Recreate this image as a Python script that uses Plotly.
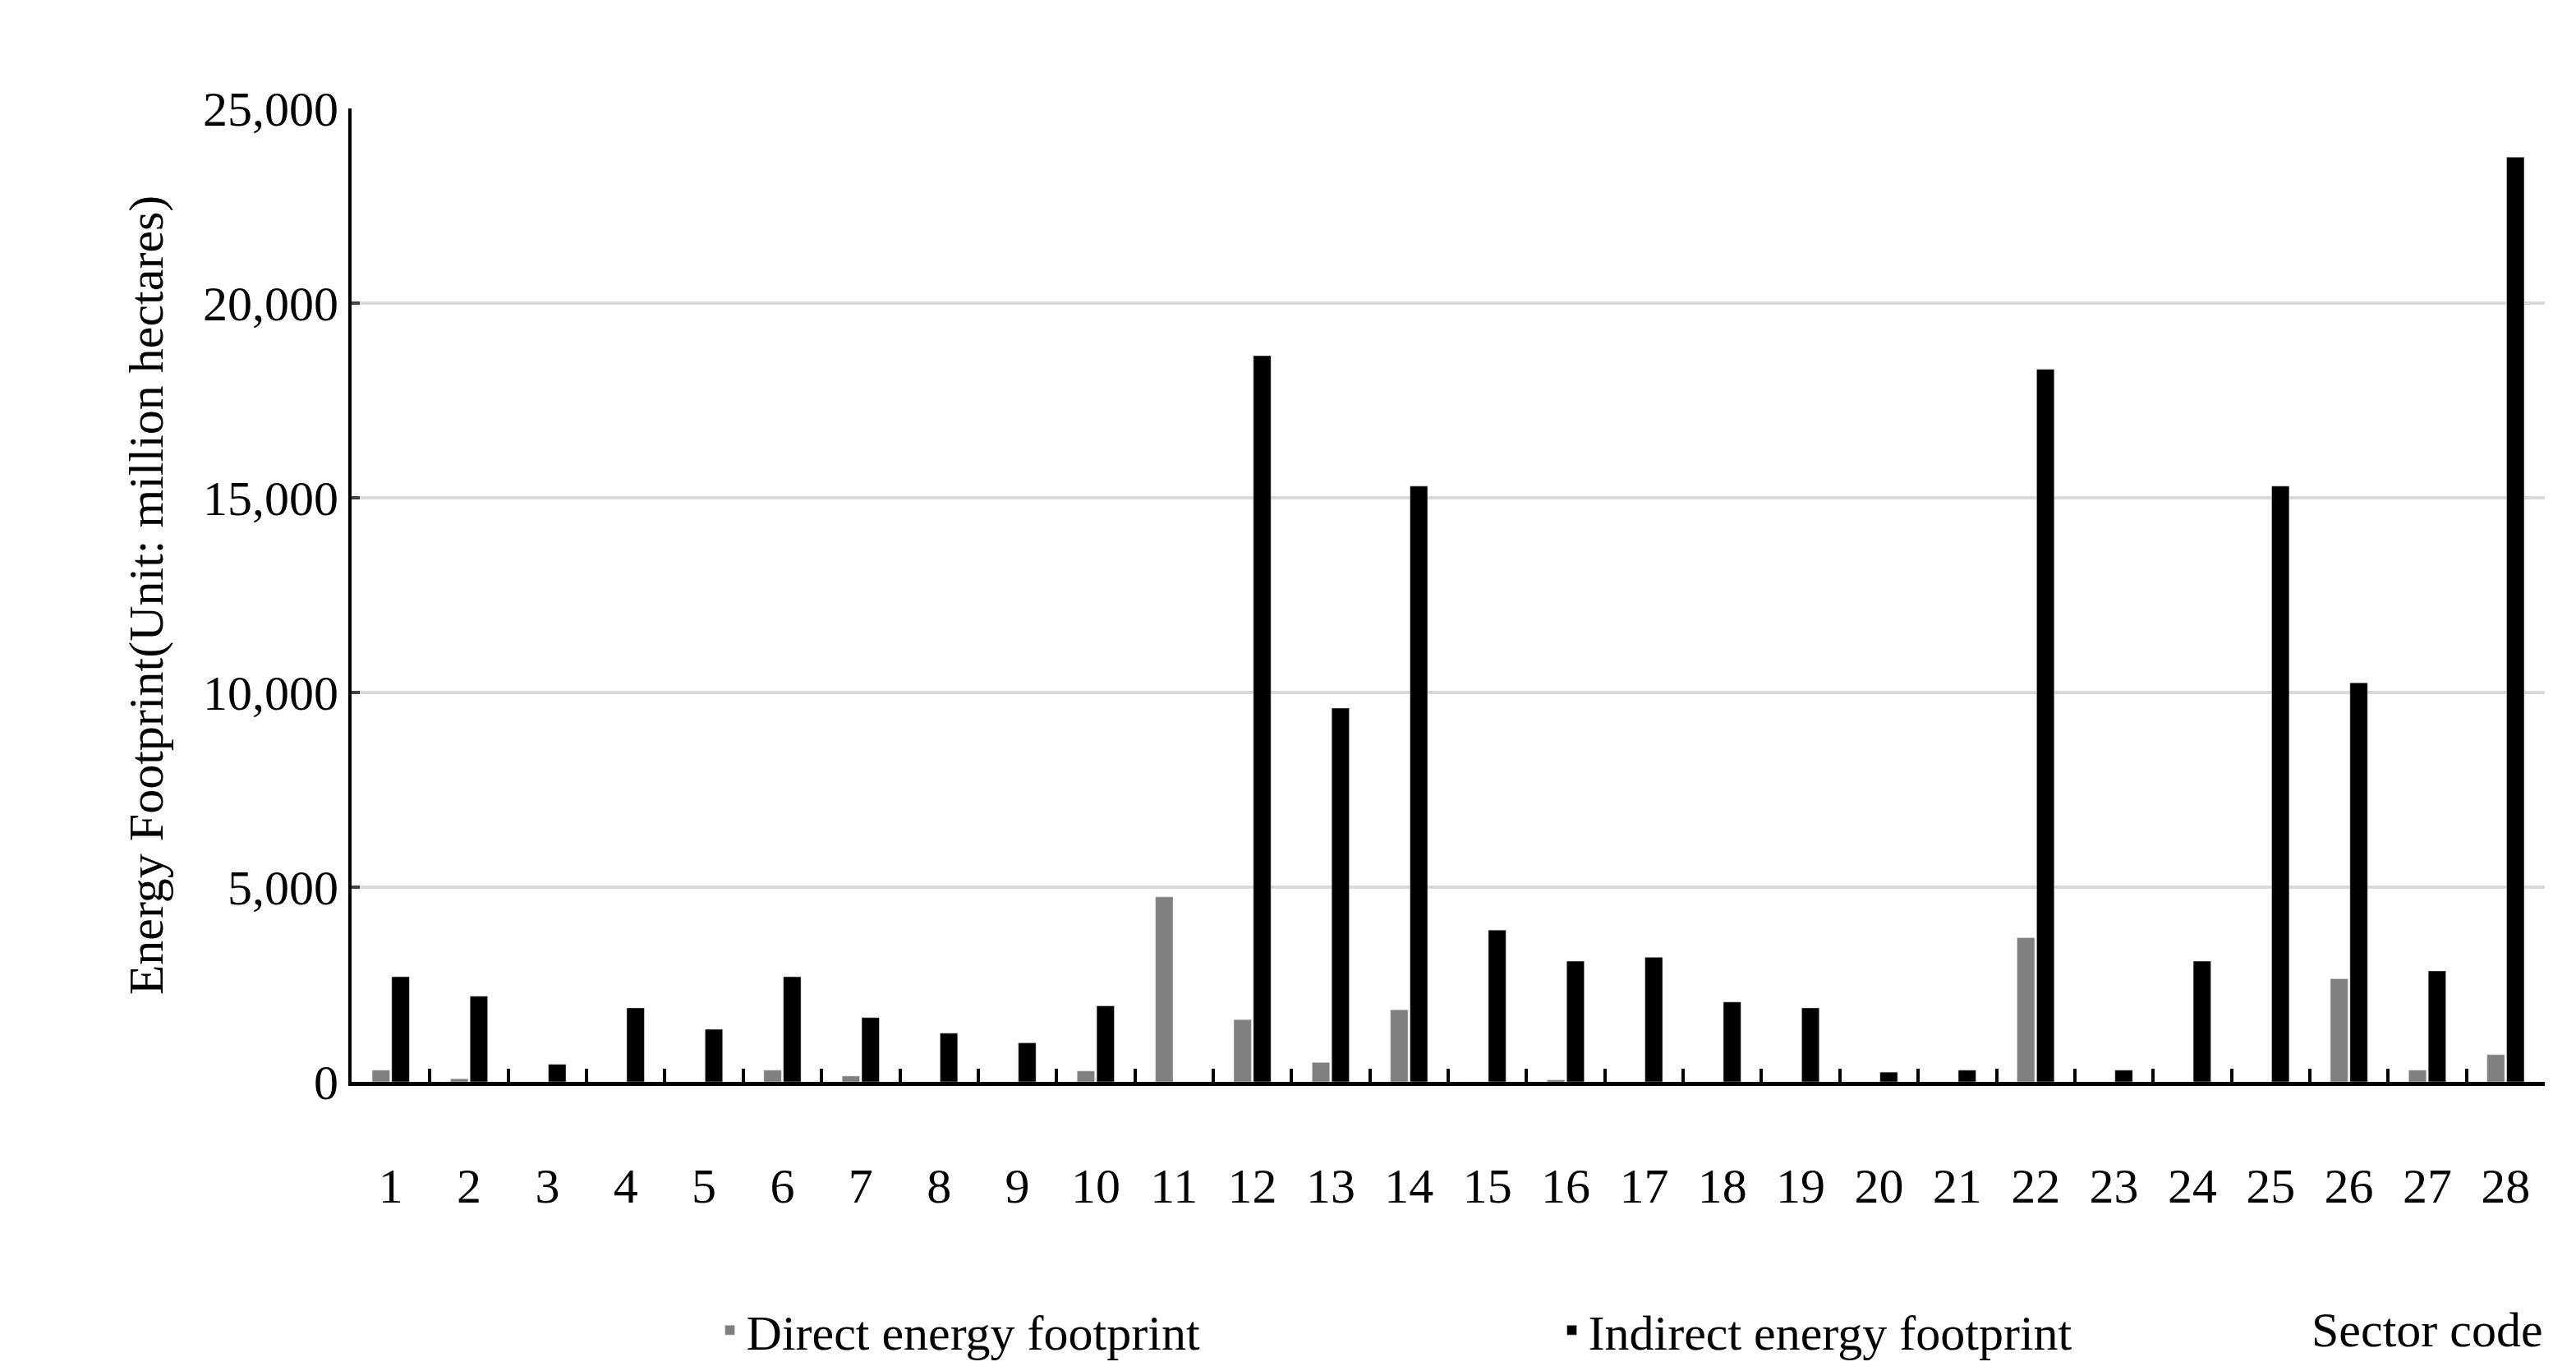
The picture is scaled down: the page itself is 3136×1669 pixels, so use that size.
import plotly.graph_objects as go

sectors = [str(i) for i in range(1, 29)]
direct = [300, 80, 0, 0, 0, 300, 150, 0, 0, 280, 4750, 1600, 500, 1850, 0, 50, 0, 0, 0, 0, 0, 3700, 0, 0, 0, 2650, 300, 700]
indirect = [2700, 2200, 450, 1900, 1350, 2700, 1650, 1250, 1000, 1950, 0, 18650, 9600, 15300, 3900, 3100, 3200, 2050, 1900, 250, 300, 18300, 300, 3100, 15300, 10250, 2850, 23750]

font = "Liberation Serif"
fig = go.Figure()
fig.add_bar(x=sectors, y=direct, name="Direct energy footprint", marker_color="#808080")
fig.add_bar(x=sectors, y=indirect, name="Indirect energy footprint", marker_color="#000000")

fig.update_layout(
    width=3136, height=1669, plot_bgcolor="white", paper_bgcolor="white",
    margin=dict(l=420, r=46, t=124, b=279),
    barmode="group", bargap=0.5, bargroupgap=0.1,
    font=dict(family=font, size=56, color="black"),
    legend=dict(orientation="h", x=0.165, y=-0.255, xanchor="left", yanchor="middle",
                entrywidth=980, entrywidthmode="pixels", font=dict(size=60)),
    annotations=[dict(text="Sector code", x=1.0, y=-0.255, xref="paper", yref="paper",
                      xanchor="right", yanchor="middle", showarrow=False, font=dict(size=60))],
)
fig.update_xaxes(type="category", showline=True, linecolor="black", linewidth=5,
                 ticks="inside", tickson="boundaries", ticklen=16, tickwidth=4, tickcolor="black",
                 ticklabelstandoff=70, tickfont=dict(size=60))
fig.update_yaxes(range=[0, 25000], dtick=5000, tickformat=",", showline=True, linecolor="black", linewidth=4,
                 showgrid=True, gridcolor="#d9d9d9", gridwidth=4, ticks="inside", ticklen=10, tickwidth=4,
                 tickfont=dict(size=60), zeroline=False,
                 title=dict(text="Energy Footprint(Unit: million hectares)", font=dict(size=60), standoff=30))
fig.write_html("out.html")
